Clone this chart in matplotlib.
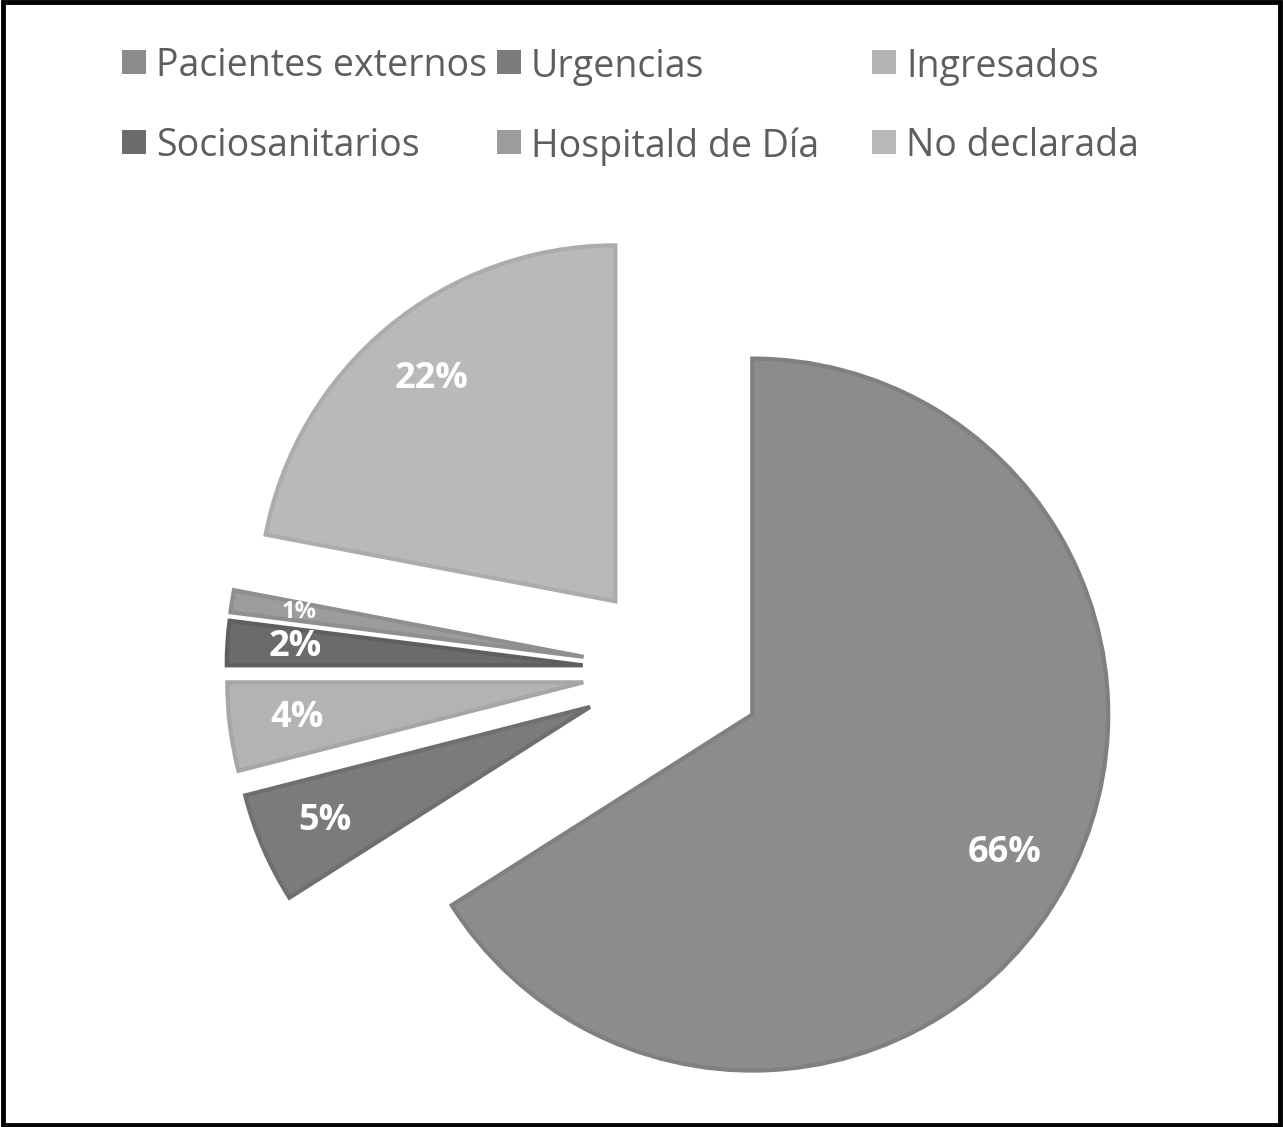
import matplotlib
matplotlib.use("Agg")
import matplotlib.pyplot as plt
from matplotlib import font_manager
from matplotlib.patches import Rectangle

# data
labels = ["Pacientes externos", "Urgencias", "Ingresados",
          "Sociosanitarios", "Hospitald de Día", "No declarada"]
values = [66, 5, 4, 2, 1, 22]
colors = ["#8c8c8c", "#7b7b7b", "#b3b3b3", "#6b6b6b", "#9c9c9c", "#b9b9b9"]
edges = ["#808080", "#6f6f6f", "#a6a6a6", "#5f5f5f", "#8f8f8f", "#acacac"]

names = {f.name for f in font_manager.fontManager.ttflist}
legend_font = "Liberation Sans Narrow" if "Liberation Sans Narrow" in names else "Open Sans"

W, H, dpi = 1283, 1127, 100
fig = plt.figure(figsize=(W / dpi, H / dpi), dpi=dpi)
ax = fig.add_axes([0, 0, 1, 1])

# pie centre and radius in pixels
cx, cy, r = 673, 671, 356
wedges, texts, autotexts = ax.pie(
    values, colors=colors, startangle=90, counterclock=False,
    explode=[0.254] * len(values), autopct="%1.0f%%", pctdistance=0.81,
    wedgeprops=dict(linewidth=3, joinstyle="miter"),
    textprops=dict(color="white", fontsize=26, fontweight="bold",
                   family="Open Sans"))
for w, e in zip(wedges, edges):
    w.set_edgecolor(e)
autotexts[4].set_fontsize(17)

ax.set_xlim(-cx / r, (W - cx) / r)
ax.set_ylim(-(H - cy) / r, cy / r)
ax.set_aspect("auto")
ax.axis("off")

# legend laid out like the spreadsheet one: 3 equal-width columns
col_x = [122, 497, 872]
row_y = [62, 142]
for i, (lab, col) in enumerate(zip(labels, colors)):
    x = col_x[i % 3]
    y = row_y[i // 3]
    fig.patches.append(Rectangle(((x) / W, 1 - (y + 12) / H), 24 / W, 24 / H,
                                 transform=fig.transFigure, facecolor=col,
                                 edgecolor="none"))
    fig.text((x + 34) / W, 1 - y / H, lab, fontsize=27, color="#5e5e5e",
             family=legend_font, va="center_baseline", ha="left")

# black frame
fig.patches.append(Rectangle((0.002, 0.002), 0.996, 0.996, transform=fig.transFigure,
                             fill=False, edgecolor="black", linewidth=3.5))

fig.savefig("out.png", dpi=dpi, facecolor="white")
